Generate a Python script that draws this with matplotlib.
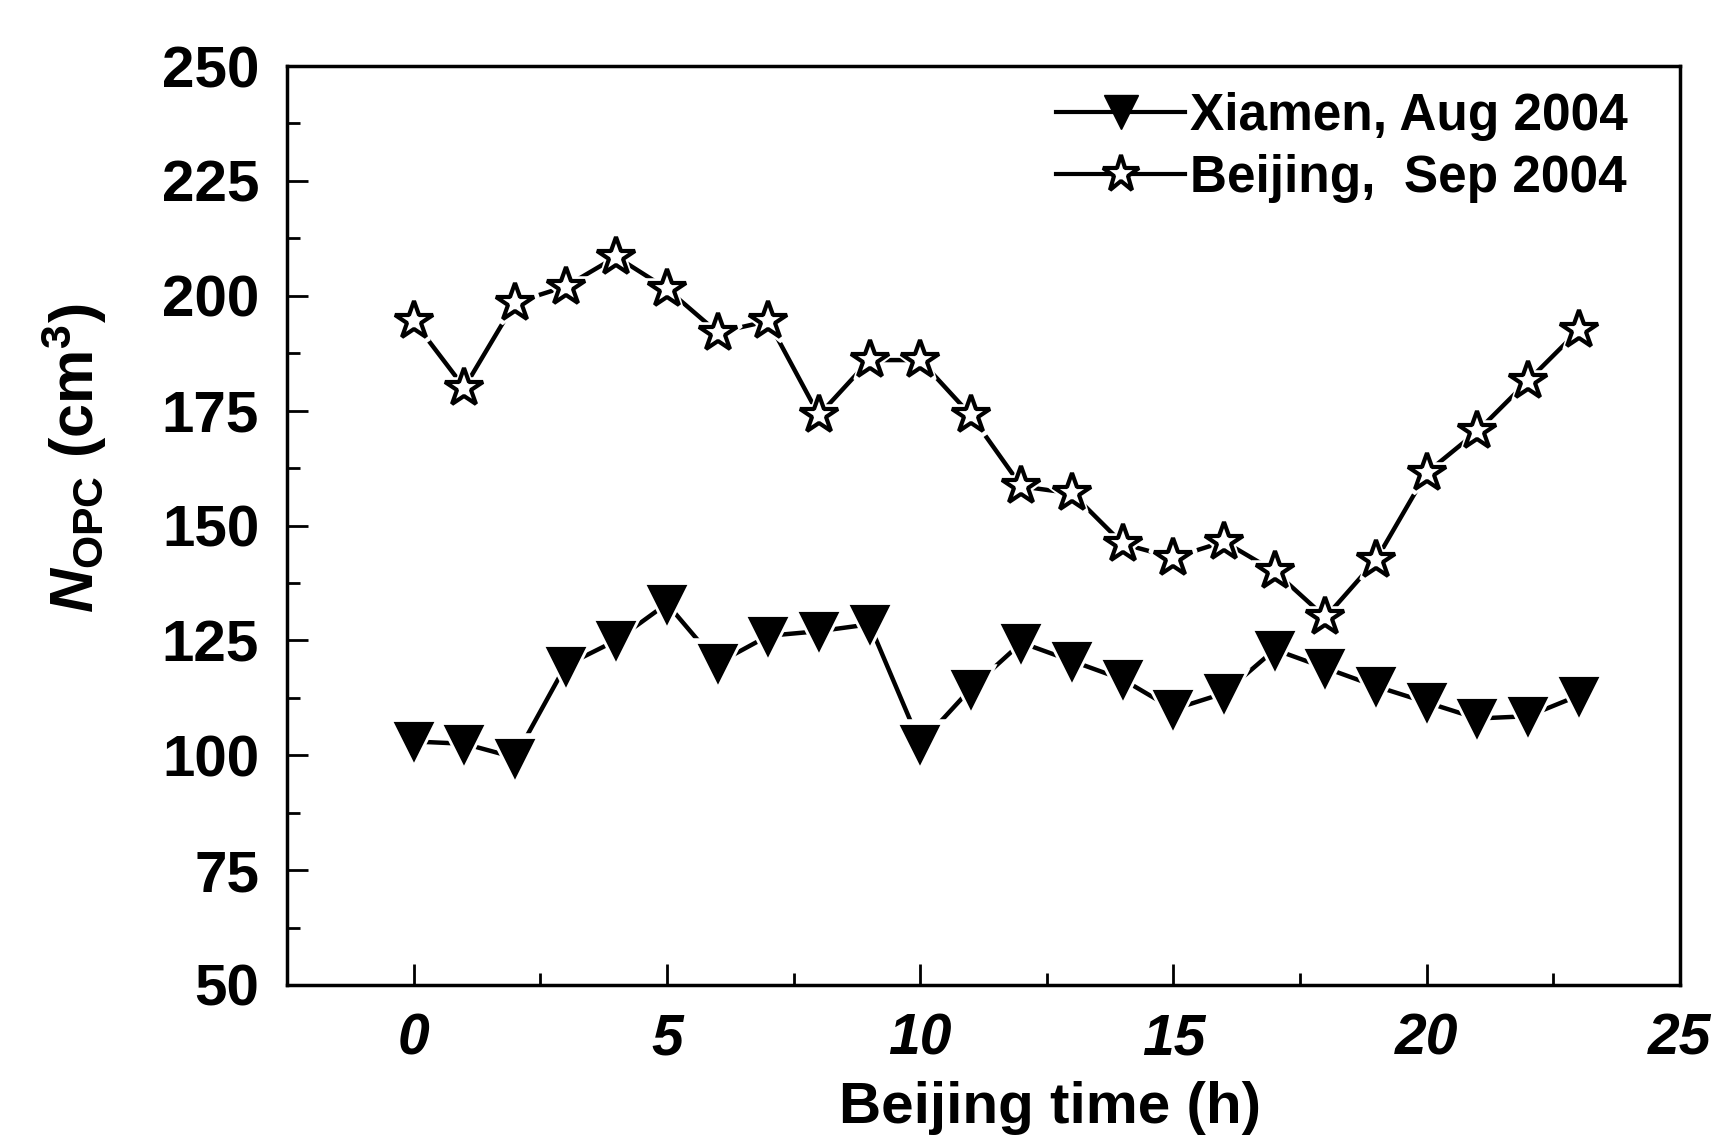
import numpy as np
import matplotlib
matplotlib.use("Agg")
from matplotlib import pyplot as plt
from matplotlib.ticker import MultipleLocator
from matplotlib.lines import Line2D

plt.rcParams['font.family'] = ['Liberation Sans', 'DejaVu Sans']
plt.rcParams['mathtext.fontset'] = 'custom'
plt.rcParams['mathtext.rm'] = 'Liberation Sans'
plt.rcParams['mathtext.it'] = 'Liberation Sans:italic:bold'
plt.rcParams['mathtext.bf'] = 'Liberation Sans:bold'

hours = np.arange(24)
xiamen = [103, 102.5, 99.5, 119.5, 125, 133, 120, 126, 127, 128.5,
          102.5, 114.5, 124.5, 120.5, 116.5, 110, 113.5, 123, 119,
          115, 111.5, 108, 108.5, 113]
beijing = [194.5, 180, 198.5, 202, 208.5, 201.5, 192, 194.5, 174, 186,
           186, 174, 158.5, 157, 146, 143, 146.5, 140, 130, 142.5,
           161.5, 170.5, 181.5, 192.5]

fig = plt.figure(figsize=(17.19, 11.39), dpi=100)
ax = fig.add_axes([287 / 1719, 1 - 985 / 1139, (1680 - 287) / 1719, (985 - 66) / 1139])


def cut_line(x, y, marker, ms, face):
    # line first, then a white halo so the line stops short of each marker
    ax.plot(x, y, '-', color='black', lw=3.2, zorder=2)
    ax.plot(x, y, marker, ms=ms + 6, color='white', mec='white', mew=4, zorder=3)
    ax.plot(x, y, marker, ms=ms, mfc=face, mec='black', mew=3, zorder=4)


cut_line(hours, xiamen, 'v', 25, 'black')
cut_line(hours, beijing, '*', 29, 'white')

ax.set_xlim(-2.5, 25)
ax.set_ylim(50, 250)
ax.xaxis.set_major_locator(MultipleLocator(5))
ax.xaxis.set_minor_locator(MultipleLocator(2.5))
ax.yaxis.set_major_locator(MultipleLocator(25))
ax.yaxis.set_minor_locator(MultipleLocator(12.5))
ax.tick_params(which='both', direction='in', top=False, right=False, width=2)
ax.tick_params(which='major', length=15)
ax.tick_params(which='minor', length=9)
ax.tick_params(axis='y', which='major', labelsize=42, pad=20)
ax.tick_params(axis='x', which='major', labelsize=41, pad=20)
for lab in ax.get_yticklabels():
    lab.set_fontweight('bold')
for lab in ax.get_xticklabels():
    lab.set_fontweight('bold')
    lab.set_fontstyle('italic')
for s in ax.spines.values():
    s.set_linewidth(2.5)

ax.set_xlabel('Beijing time (h)', fontsize=42, fontweight='bold')
ax.xaxis.set_label_coords(0.548, -0.104)
ax.set_ylabel(r'$N_{\mathbf{OPC}}$' + r' (cm$^{\mathbf{3}}$)', fontsize=44,
              fontweight='bold')
ax.yaxis.set_label_coords(-0.128, 0.573)

handles = [
    Line2D([], [], color='black', lw=3, marker='v', ms=25, mfc='black', mec='black'),
    Line2D([], [], color='black', lw=3, marker='*', ms=28, mfc='white', mec='black', mew=3),
]
leg = ax.legend(handles, ['Xiamen, Aug 2004', 'Beijing,  Sep 2004'],
                loc='upper right', bbox_to_anchor=(0.981, 1.0), borderpad=0,
                frameon=False, fontsize=37, handlelength=2.5,
                handletextpad=0.1, labelspacing=0.25)
for t in leg.get_texts():
    t.set_fontweight('bold')

fig.savefig('out.png', dpi=100)
